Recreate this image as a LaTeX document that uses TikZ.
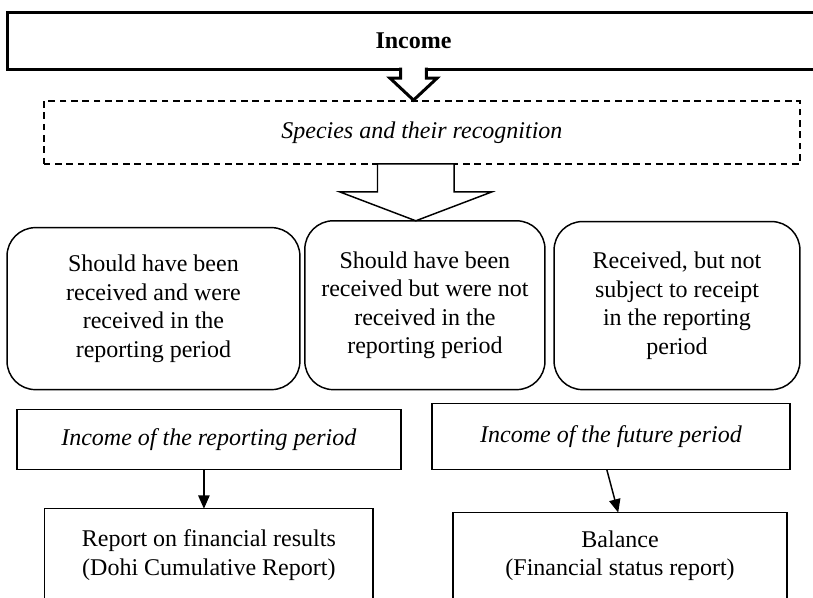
\documentclass[tikz,border=0pt]{standalone}
\usepackage{fontspec}
\setmainfont{Liberation Serif}
\usetikzlibrary{arrows.meta,positioning,calc}
\newcommand{\boxfont}{\fontsize{18pt}{21.4pt}\selectfont}
\tikzset{
  box_thick/.style={draw,line width=2.25pt,minimum width=21.43cm,minimum height=1.50cm,
    font=\boxfont\bfseries},
  box_dash/.style={draw,line width=1.1pt,dash pattern=on 5pt off 3.5pt,font=\boxfont\itshape},
  box_round/.style={draw,line width=1.1pt,rounded corners=0.75cm,align=center,font=\boxfont},
  box_plain/.style={draw,line width=1.1pt,align=center,font=\boxfont},
  box_open/.style={box_plain,text depth=3cm,inner xsep=0pt},
  hollow_thick/.style={draw,line width=2.25pt,line join=miter},
  hollow/.style={draw,fill=white,line width=1.1pt,line join=miter},
  arr/.style={-{Triangle[length=10pt,width=8.5pt]},line width=1.1pt},
}
\begin{document}
\begin{tikzpicture}[inner sep=0pt, outer sep=0pt]
  \useasboundingbox (0,0) rectangle (21.43,-15.76);
  \clip (0,0) rectangle (21.43,-15.76);

  \node[box_thick] (income) at (10.90,-1.07) {Income};
  \node[box_dash,minimum width=19.93cm,minimum height=1.66cm,below=0.84cm of income,xshift=0.22cm] (species) {Species and their recognition};

  \node[box_round,minimum width=6.33cm,minimum height=4.45cm,below=1.50cm of species,xshift=0.08cm] (recv_not) {Should have been\\received but were not\\received in the\\reporting period};
  \node[box_round,minimum width=7.72cm,minimum height=4.27cm,left=0.13cm of recv_not.south west,anchor=south east] (recv_yes) {Should have been\\received and were\\received in the\\reporting period};
  \node[box_round,minimum width=6.48cm,minimum height=4.43cm,right=0.24cm of recv_not.south east,anchor=south west] (recv_extra) {Received, but not\\subject to receipt\\in the reporting\\period};

  \node[box_plain,font=\boxfont\itshape,minimum width=10.12cm,minimum height=1.58cm,below=0.53cm of recv_yes.south west,anchor=north west,xshift=0.26cm] (inc_rep) {Income of the reporting period};
  \node[box_plain,font=\boxfont\itshape,minimum width=9.44cm,minimum height=1.74cm,below=0.37cm of recv_extra.south east,anchor=north east,xshift=-0.26cm] (inc_fut) {Income of the future period};

  \node[box_open,minimum width=8.65cm,inner ysep=0.55cm,below=1.03cm of inc_rep] (report) {Report on financial results\\(Dohi Cumulative Report)};
  \node[box_open,minimum width=8.80cm,inner ysep=0.47cm,below=1.13cm of inc_fut,xshift=0.24cm] (balance) {Balance\\(Financial status report)};

  \coordinate (a_top) at (income.south);
  \fill[white] ($(a_top)+(-0.34,0.06)$) -- ++(0,-0.30) -- ++(-0.28,0) -- ($(a_top)+(0,-0.82)$) -- ($(a_top)+(0.62,-0.24)$) -- ++(-0.28,0) -- ++(0,0.30) -- cycle;
  \draw[hollow_thick] ($(a_top)+(-0.34,0.04)$) -- ++(0,-0.28) -- ++(-0.28,0) -- ($(a_top)+(0,-0.82)$) -- ($(a_top)+(0.62,-0.24)$) -- ++(-0.28,0) -- ++(0,0.28);

  \coordinate (b_top) at ([xshift=-0.16cm]species.south);
  \draw[hollow] ($(b_top)+(-1.01,0)$) -- ++(0,-0.74) -- ++(-0.99,0) -- ($(b_top)+(0,-1.50)$) -- ($(b_top)+(2.0,-0.74)$) -- ++(-0.99,0) -- ++(0,0.74) -- cycle;

  \draw[arr] ([xshift=-0.13cm]inc_rep.south) -- ([xshift=-0.13cm]report.north);
  \draw[arr] ([xshift=-0.11cm]inc_fut.south) -- ([xshift=-0.05cm]balance.north);
\end{tikzpicture}
\end{document}
